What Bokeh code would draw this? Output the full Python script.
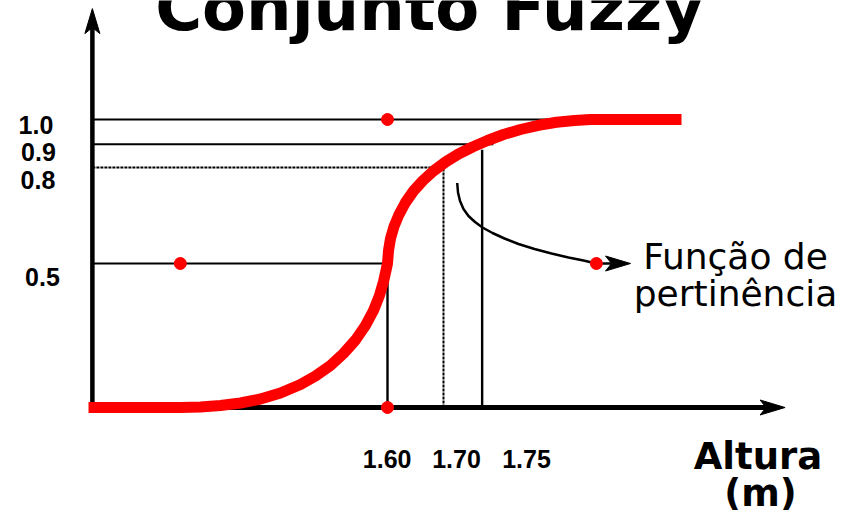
from bokeh.plotting import figure
from bokeh.models import Range1d, Label
from bokeh.embed import file_html
from bokeh.resources import INLINE

# ---------------- data ----------------
# membership curve: height (m) -> membership degree
curve_x = [1.0661, 1.2304, 1.2661, 1.3018, 1.3375, 1.3732, 1.4089, 1.4446, 1.4714,
           1.4982, 1.5214, 1.5429, 1.5607, 1.5750, 1.5857, 1.5929, 1.5973, 1.6000,
           1.6018, 1.6054, 1.6116, 1.6205, 1.6321, 1.6464, 1.6634, 1.6821, 1.7036,
           1.7268, 1.7518, 1.7786, 1.8071, 1.8375, 1.8696, 1.9018, 1.9339, 1.9625,
           2.1250]
curve_y = [0.0000, 0.0000, 0.0017, 0.0069, 0.0156, 0.0295, 0.0503, 0.0799, 0.1094,
           0.1458, 0.1875, 0.2344, 0.2847, 0.3368, 0.3889, 0.4375, 0.4757, 0.5000,
           0.5451, 0.5868, 0.6285, 0.6701, 0.7118, 0.7517, 0.7882, 0.8212, 0.8524,
           0.8802, 0.9045, 0.9271, 0.9479, 0.9653, 0.9799, 0.9903, 0.9965, 1.0000,
           1.0000]

# horizontal reference levels
level_y = [1.0, 0.914, 0.833, 0.5]
level_labels = ["1.0", "0.9", "0.8", "0.5"]
level_end_x = [1.95, 1.789, 1.700, 1.600]
level_dashed = [False, False, True, False]

# vertical reference heights
height_x = [1.600, 1.700, 1.769]
height_labels = ["1.60", "1.70", "1.75"]
height_top_y = [0.500, 0.833, 0.895]
height_dashed = [False, True, False]

# red points
dot_x = [1.600, 1.230, 1.600, 1.973]
dot_y = [1.000, 0.500, 0.000, 0.500]

# annotation arrow path
note_x = [1.7245, 1.7259, 1.7295, 1.7357, 1.7446, 1.7563, 1.7696, 1.7875, 1.8089,
          1.8339, 1.8625, 1.8929, 1.9232, 1.9500, 1.9727]
note_y = [0.7795, 0.7465, 0.7170, 0.6892, 0.6649, 0.6441, 0.6250, 0.6059, 0.5868,
          0.5677, 0.5503, 0.5347, 0.5208, 0.5104, 0.5000]
note_tip_x = 2.034

# axes
axis_origin_x = 1.073
x_axis_tip = 2.31
y_axis_tip = 1.385

title_text = "Conjunto Fuzzy"
xlabel_lines = ["Altura", "(m)"]
note_lines = ["Função de", "pertinência"]

# ---------------- layout (page pixels) ----------------
W, H = 853, 510
PXM = 560.0   # px per metre
PXU = 288.0   # px per membership unit
ANCHOR_X, ANCHOR_PX = 1.60, 387.0
ANCHOR_PY = 407.0  # page y of membership 0

x_start = ANCHOR_X - ANCHOR_PX / PXM
y_start = -(H - ANCHOR_PY) / PXU

p = figure(width=W, height=H, output_backend="svg", toolbar_location=None,
           x_range=Range1d(x_start, x_start + W / PXM),
           y_range=Range1d(y_start, y_start + H / PXU),
           x_axis_type=None, y_axis_type=None, min_border=0)
p.outline_line_color = None
p.background_fill_color = "white"
p.border_fill_color = "white"

HL, HW, HN = 25.0, 7.5, 6.0  # arrow head length, half width, notch


def head_right(tx, ty):
    xs = [tx, tx - HL / PXM, tx - (HL - HN) / PXM, tx - HL / PXM]
    ys = [ty, ty + HW / PXU, ty, ty - HW / PXU]
    p.patch(xs, ys, color="black", line_width=1)


def head_up(tx, ty):
    xs = [tx, tx - HW / PXM, tx, tx + HW / PXM]
    ys = [ty, ty - HL / PXU, ty - (HL - HN) / PXU, ty - HL / PXU]
    p.patch(xs, ys, color="black", line_width=1)


# reference lines
for yv, xe, dashed in zip(level_y, level_end_x, level_dashed):
    p.line([axis_origin_x, xe], [yv, yv], line_color="black",
           line_width=2.0 if dashed else 2.2,
           line_dash="3 1" if dashed else "solid")
for xv, yt, dashed in zip(height_x, height_top_y, height_dashed):
    p.line([xv, xv], [0, yt], line_color="black",
           line_width=2.0 if dashed else 2.4,
           line_dash="3 1" if dashed else "solid")

# axes
p.line([axis_origin_x, axis_origin_x], [-3 / PXU, y_axis_tip - (HL - HN) / PXU],
       line_color="black", line_width=4.5)
head_up(axis_origin_x, y_axis_tip)
p.line([axis_origin_x - 3 / PXM, x_axis_tip - (HL - HN) / PXM], [0, 0],
       line_color="black", line_width=5)
head_right(x_axis_tip, 0)

# annotation arrow
p.line(note_x, note_y, line_color="black", line_width=2.5, line_join="round")
p.line([note_x[-1], note_tip_x - (HL - HN) / PXM], [note_y[-1], note_y[-1]],
       line_color="black", line_width=2.5)
head_right(note_tip_x, note_y[-1])

# membership curve
p.line(curve_x, curve_y, line_color="#ff0000", line_width=11,
       line_join="round", line_cap="butt")

# red dots
p.scatter(dot_x, dot_y, size=12, color="#ff0000")


# ---------------- texts ----------------
def label(text, px, py, font, size, bold=True):
    p.add_layout(Label(x=px, y=H - py, x_units="screen", y_units="screen",
                       text=text, text_align="center", text_baseline="alphabetic",
                       text_font=font, text_font_size=size,
                       text_font_style="bold" if bold else "normal",
                       text_color="black"))


label(title_text, 429, 7, "DejaVu Sans", "64px")

ylab_cx = [35.5, 38, 37.5, 42]
ylab_base = [124.5, 151, 179, 276]
for t, cx, b in zip(level_labels, ylab_cx, ylab_base):
    label(t, cx, b, "Liberation Sans", "25px")

xlab_cx = [386.7, 456, 526]
for t, cx in zip(height_labels, xlab_cx):
    label(t, cx, 458.5, "Liberation Sans", "25px")

label(xlabel_lines[0], 757.5, 455.5, "DejaVu Sans", "37px")
label(xlabel_lines[1], 760, 492.5, "DejaVu Sans", "37px")

label(note_lines[0], 735, 256, "DejaVu Sans", "36px", bold=False)
label(note_lines[1], 735, 293, "DejaVu Sans", "36px", bold=False)

open("out.html", "w").write(file_html(p, INLINE))
